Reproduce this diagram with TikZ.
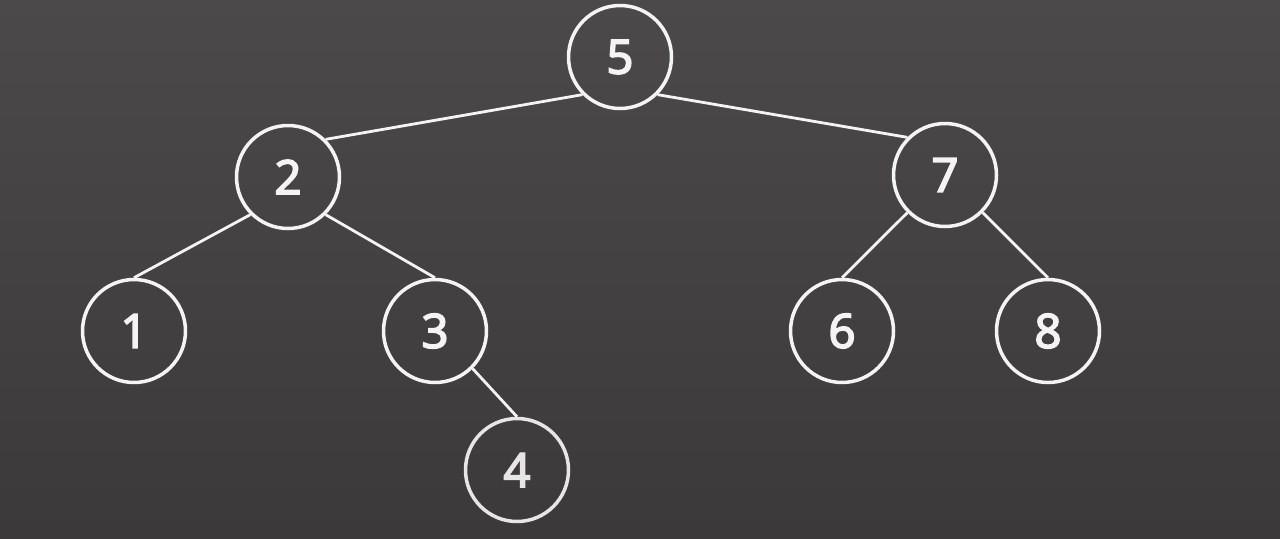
\documentclass[tikz,border=0pt]{standalone}
\usepackage{fontspec}
\setmainfont{Noto Sans}
\newfontfamily\digitfont{Noto Sans}[FakeBold=3]
\usetikzlibrary{positioning}
\definecolor{bgtop}{HTML}{4B494A}
\definecolor{bgbot}{HTML}{3B393A}
\definecolor{ink}{HTML}{F4F4F4}

\begin{document}
\begin{tikzpicture}[
  x=0.02cm, y=-0.02cm,
  treenode/.style={circle, draw=ink, line width=2pt, minimum size=2.06cm, inner sep=0pt, text=ink, font=\digitfont\fontsize{27}{27}\selectfont},
  edge/.style={draw=ink, line width=1.6pt}
]
  \shade[top color=bgtop, bottom color=bgbot] (0,0) rectangle (1280,538);
  \useasboundingbox (0,0) rectangle (1280,538);
  \node[treenode] (n5) at (620,57) {5};
  \node[treenode] (n2) at (288,177) {2};
  \node[treenode] (n7) at (945,175) {7};
  \node[treenode] (n1) at (134,331) {1};
  \node[treenode] (n3) at (435,331) {3};
  \node[treenode] (n6) at (842,331) {6};
  \node[treenode] (n8) at (1048,331) {8};
  \node[treenode, draw=ink!88!gray, text=ink!88!gray] (n4) at (517,470) {4};
  \draw[edge] (n5.south west) -- (n2.north east);
  \draw[edge] (n5.south east) -- (n7.north west);
  \draw[edge] (n2.south west) -- (n1.north);
  \draw[edge] (n2.south east) -- (n3.north);
  \draw[edge] (n3.south east) -- (n4.north);
  \draw[edge] (n7.south west) -- (n6.north);
  \draw[edge] (n7.south east) -- (n8.north);
\end{tikzpicture}
\end{document}
